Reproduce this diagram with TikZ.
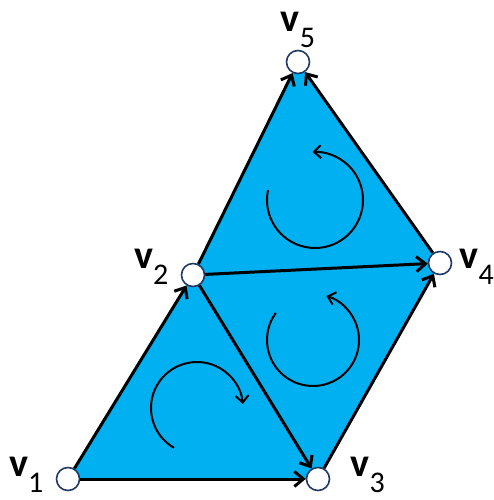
\documentclass[tikz,border=0pt]{standalone}
\usepackage{fontspec}
\setmainfont{Carlito}
\usepackage{tikz}
\usetikzlibrary{arrows.meta,positioning,backgrounds}
\definecolor{faceblue}{RGB}{0,176,240}
\definecolor{rimnavy}{RGB}{32,56,100}
\newcommand{\vl}[1]{\textbf{v}\raisebox{-8pt}{\fontsize{15}{15}\selectfont #1}}

\begin{document}
\begin{tikzpicture}[
  x=0.5pt, y=0.5pt,
  vtx/.style={circle,draw=rimnavy,line width=0.8pt,fill=white,
              minimum size=11.5pt,inner sep=0pt},
  lbl/.style={inner sep=0pt,font=\fontsize{20}{20}\selectfont},
  edge/.style={line width=1.5pt,-{Straight Barb[length=4.5pt,width=7.5pt]}},
  turn/.style={line width=1pt,-{Straight Barb[length=3.5pt,width=6.5pt]}},
]
\useasboundingbox (0,0) rectangle (494,500);
\node[vtx] (v1) at (68,21)   {};
\node[vtx] (v2) at (193,225) {};
\node[vtx] (v3) at (318,21)  {};
\node[vtx] (v4) at (440,237) {};
\node[vtx] (v5) at (298,438) {};
\node[lbl,left=6pt of v1,yshift=2pt] (l1) {\vl{1}};
\node[lbl,left=6pt of v2,yshift=4pt] (l2) {\vl{2}};
\node[lbl,right=10pt of v3,yshift=2pt] (l3) {\vl{3}};
\node[lbl,right=3.5pt of v4,yshift=-2pt] (l4) {\vl{4}};
\node[lbl,above=1pt of v5] (l5) {\vl{5}};

\begin{scope}[on background layer]
\fill[faceblue] (v1.center) -- (v3.center) -- (v4.center) -- (v5.center)
  -- (v2.center) -- cycle;
\end{scope}

\draw[edge] (v1) -- (v2);
\draw[edge] (v1) -- (v3);
\draw[edge] (v2) -- (v3);
\draw[edge] (v2) -- (v4);
\draw[edge] (v3) -- (v4);
\draw[edge] (v2) -- (v5);
\draw[edge] (v4) -- (v5);

% orientation of each face
\coordinate (c1) at (197,92);
\coordinate (c2) at (313,160);
\coordinate (c3) at (315,300);
\draw[turn] ([shift={(240:46)}]c1) arc[start angle=240,end angle=5,radius=46];
\draw[turn] ([shift={(144:46)}]c2) arc[start angle=144,end angle=433,radius=46];
\draw[turn] ([shift={(168:48)}]c3) arc[start angle=168,end angle=453,radius=48];
\end{tikzpicture}
\end{document}
